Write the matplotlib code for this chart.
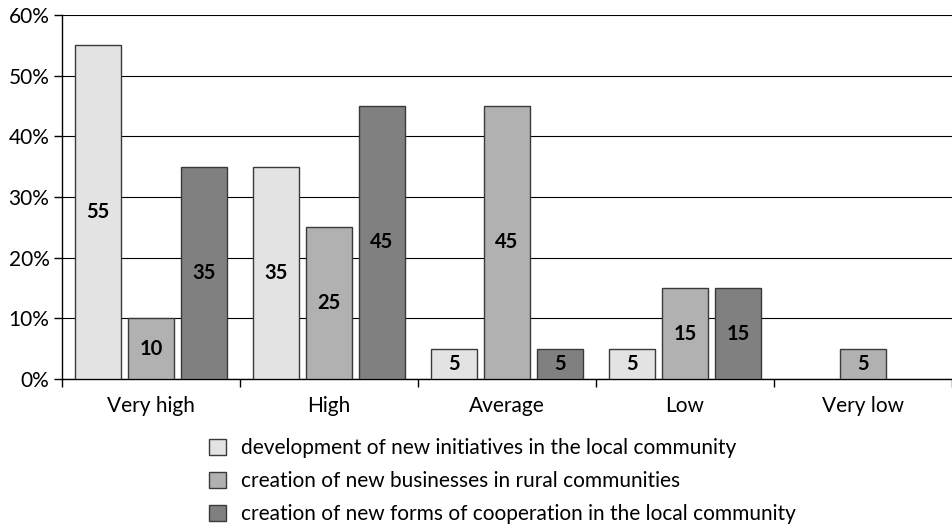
import matplotlib
matplotlib.use("Agg")
import matplotlib.pyplot as plt
import numpy as np
from matplotlib.patches import Patch

categories = ["Very high", "High", "Average", "Low", "Very low"]
series_names = [
    "development of new initiatives in the local community",
    "creation of new businesses in rural communities",
    "creation of new forms of cooperation in the local community",
]
development = [55, 35, 5, 5, 0]
businesses = [10, 25, 45, 15, 5]
cooperation = [35, 45, 5, 15, 0]
y_ticks = [0, 10, 20, 30, 40, 50, 60]

colors = ["#e3e3e3", "#b1b1b1", "#808080"]
edge = "#3a3a3a"

plt.rcParams['font.family'] = ['Lato', 'DejaVu Sans']
FS = 15

fig = plt.figure(figsize=(9.52, 5.24), dpi=100)
ax = fig.add_axes([62/952, (524-379)/524, (952-62)/952, (379-15)/524])

x = np.arange(len(categories))
offsets = [-0.298, 0, 0.298]
width = 0.26
for vals, off, col in zip([development, businesses, cooperation], offsets, colors):
    for xi, v in zip(x, vals):
        if v <= 0:
            continue
        ax.bar(xi + off, v, width=width, color=col, edgecolor=edge, linewidth=1.0, zorder=3)
        ax.text(xi + off, v / 2, f"{v}", ha="center", va="center",
                fontsize=14.5, fontweight="bold", color="black", zorder=4)

ax.set_xlim(-0.5, len(categories) - 0.5)
ax.set_ylim(0, 60)
ax.set_yticks(y_ticks)
ax.set_yticklabels([f"{t}%" for t in y_ticks], fontsize=FS)
ax.yaxis.grid(True, color="black", linewidth=0.8, zorder=0)
ax.set_axisbelow(True)

ax.set_xticks(np.arange(-0.5, len(categories) + 0.5, 1))
ax.set_xticklabels([])
ax.set_xticks(x, minor=True)
ax.set_xticklabels(categories, minor=True, fontsize=FS)
ax.tick_params(axis="x", which="minor", length=0, pad=12)
ax.tick_params(axis="x", which="major", length=6, direction="out", width=1)
ax.tick_params(axis="y", length=6, direction="out", width=1, pad=3)

for s in ["top", "right"]:
    ax.spines[s].set_visible(False)
ax.spines["left"].set_linewidth(1.0)
ax.spines["bottom"].set_linewidth(1.0)

handles = [Patch(facecolor=c, edgecolor=edge, linewidth=1.0) for c in colors]
fig.legend(handles, series_names, loc="upper left", bbox_to_anchor=(209/952, 1 - 438/524),
           frameon=False, fontsize=FS, handlelength=0.8, handleheight=0.8,
           labelspacing=0.63, handletextpad=0.75, borderpad=0, borderaxespad=0)

fig.savefig("out.png", dpi=100)
